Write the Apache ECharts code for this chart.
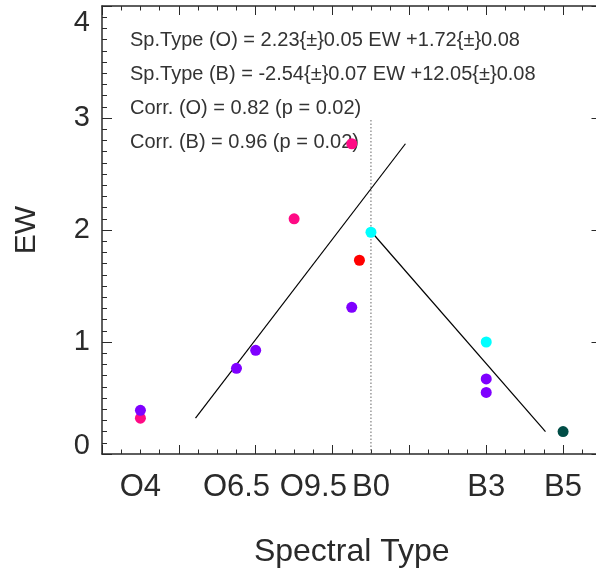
<!DOCTYPE html>
<html>
<head>
<meta charset="utf-8">
<script src="https://cdn.jsdelivr.net/npm/echarts@6/dist/echarts.min.js"></script>
<style>
  html, body { margin: 0; padding: 0; background: #fff; }
  #chart { width: 596px; height: 571px; }
</style>
</head>
<body>
<div id="chart"></div>
<script>
// Spectral type is coded numerically: O4 = 1 ... B0 = 7, B3 = 10, B5 = 12
const tickPositions = [1, 3.5, 5.5, 7, 10, 12];
const tickNames = ['O4', 'O6.5', 'O9.5', 'B0', 'B3', 'B5'];

// Stars grouped by marker colour: [spectral type code, EW]
const pinkStars   = [[1, 0.32], [5, 2.10], [6.5, 2.77]];
const purpleStars = [[1, 0.39], [3.5, 0.765], [4, 0.926], [6.5, 1.31], [10, 0.67], [10, 0.55]];
const redStars    = [[6.7, 1.73]];
const cyanStars   = [[7, 1.98], [10, 1.00]];
const greenStars  = [[12, 0.20]];

// Linear fits Sp.Type = a * EW + b  -> [a, err a, b, err b]
const fitO = [2.23, 0.05, 1.72, 0.08];
const fitB = [-2.54, 0.07, 12.05, 0.08];
// Correlation coefficient and p-value
const corrO = [0.82, 0.02];
const corrB = [0.96, 0.02];

// O/B boundary (B0)
const boundaryType = 7;
const boundaryTop = 3;

const allStars = [].concat(pinkStars, purpleStars, redStars, cyanStars, greenStars);
const oStars = allStars.filter(p => p[0] < boundaryType);
const bStars = allStars.filter(p => p[0] >= boundaryType);

// Fit line drawn over the EW range of its group
function fitLine(fit, stars) {
  const ews = stars.map(p => p[1]);
  const lo = Math.min.apply(null, ews), hi = Math.max.apply(null, ews);
  return [[fit[0] * lo + fit[2], lo], [fit[0] * hi + fit[2], hi]];
}

const fmt = (v, d) => v.toFixed(d);
const notes = [
  'Sp.Type (O) = ' + fmt(fitO[0], 2) + '{±}' + fmt(fitO[1], 2) + ' EW +' + fmt(fitO[2], 2) + '{±}' + fmt(fitO[3], 2),
  'Sp.Type (B) = ' + fmt(fitB[0], 2) + '{±}' + fmt(fitB[1], 2) + ' EW +' + fmt(fitB[2], 2) + '{±}' + fmt(fitB[3], 2),
  'Corr. (O) = ' + fmt(corrO[0], 2) + ' (p = ' + fmt(corrO[1], 2) + ')',
  'Corr. (B) = ' + fmt(corrB[0], 2) + ' (p = ' + fmt(corrB[1], 2) + ')'
];

const FONT = 'Liberation Sans, Arial, Helvetica, sans-serif';
const INK = '#2a2a2a';
const X_MIN = 0, X_MAX = 13, Y_MIN = 0, Y_MAX = 4;

function xAxisBase(pos, interval, tickLen, showLine) {
  return {
    type: 'value', position: pos, min: X_MIN, max: X_MAX, interval: interval,
    axisLine: { show: showLine, onZero: false, lineStyle: { color: INK, width: 1.5 } },
    axisTick: { show: true, inside: true, length: tickLen, lineStyle: { color: INK, width: 1 } },
    axisLabel: { show: false },
    splitLine: { show: false }
  };
}

const xAxes = [
  // minor ticks (every half subtype) and tick names
  Object.assign(xAxisBase('bottom', 0.5, 4.5, true), {
    name: 'Spectral Type', nameLocation: 'middle', nameGap: 82,
    nameTextStyle: { fontFamily: FONT, fontSize: 32, color: INK },
    axisLabel: {
      show: true, margin: 18, fontFamily: FONT, fontSize: 31, color: INK,
      formatter: function (v) {
        const i = tickPositions.findIndex(t => Math.abs(t - v) < 1e-6);
        return i >= 0 ? tickNames[i] : '';
      }
    }
  }),
  xAxisBase('bottom', 2, 9, false),
  xAxisBase('top', 0.5, 4.5, true),
  xAxisBase('top', 2, 9, false)
];

function yAxisBase(pos) {
  return {
    type: 'value', position: pos, min: Y_MIN, max: Y_MAX, interval: 1,
    axisLine: { show: true, onZero: false, lineStyle: { color: INK, width: 1.5 } },
    axisTick: { show: true, inside: true, length: 10, lineStyle: { color: INK, width: 1 } },
    minorTick: { show: true, splitNumber: 10, length: 5, lineStyle: { color: INK, width: 1 } },
    axisLabel: { show: false },
    splitLine: { show: false }
  };
}

const yLeft = Object.assign(yAxisBase('left'), {
  name: 'EW', nameLocation: 'middle', nameGap: 60, nameRotate: 90,
  nameTextStyle: { fontFamily: FONT, fontSize: 30, color: INK },
  axisLabel: {
    show: true, margin: 12,
    formatter: function (v) {
      if (v === Y_MIN) return '{lo|' + v + '}';
      if (v === Y_MAX) return '{hi|' + v + '}';
      return '{mid|' + v + '}';
    },
    rich: {
      lo:  { fontFamily: FONT, fontSize: 29, color: INK, padding: [0, 0, 16, 0] },
      hi:  { fontFamily: FONT, fontSize: 29, color: INK, padding: [34, 0, 0, 0] },
      mid: { fontFamily: FONT, fontSize: 29, color: INK }
    }
  }
});

function starSeries(name, data, color) {
  return {
    name: name, type: 'scatter', xAxisIndex: 0, yAxisIndex: 0,
    data: data, symbol: 'circle', symbolSize: 11,
    itemStyle: { color: color, opacity: 1 }, z: 5
  };
}

function lineSeries(name, data, style) {
  return {
    name: name, type: 'line', xAxisIndex: 0, yAxisIndex: 0,
    data: data, symbol: 'none', silent: true,
    lineStyle: style, z: 3
  };
}

const chart = echarts.init(document.getElementById('chart'), null, { renderer: 'canvas' });
chart.setOption({
  backgroundColor: '#fff',
  animation: false,
  grid: { left: 102, top: 6, width: 499.5, height: 448, containLabel: false, outerBoundsMode: 'none' },
  xAxis: xAxes,
  yAxis: [yLeft, yAxisBase('right')],
  graphic: notes.map((t, i) => ({
    type: 'text', left: 130, top: 30 + i * 34.2, silent: true,
    style: { text: t, fontFamily: FONT, fontSize: 20, fill: '#333' }
  })),
  series: [
    lineSeries('boundary', [[boundaryType, Y_MIN], [boundaryType, boundaryTop]],
      { color: '#666', width: 1, type: [1.5, 2] }),
    lineSeries('fit O', fitLine(fitO, oStars), { color: '#000', width: 1.2 }),
    lineSeries('fit B', fitLine(fitB, bStars), { color: '#000', width: 1.2 }),
    starSeries('pink', pinkStars, '#ff0a85'),
    starSeries('purple', purpleStars, '#7f00ff'),
    starSeries('red', redStars, '#ff0000'),
    starSeries('cyan', cyanStars, '#00ffff'),
    starSeries('green', greenStars, '#004d46')
  ]
});
</script>
</body>
</html>
